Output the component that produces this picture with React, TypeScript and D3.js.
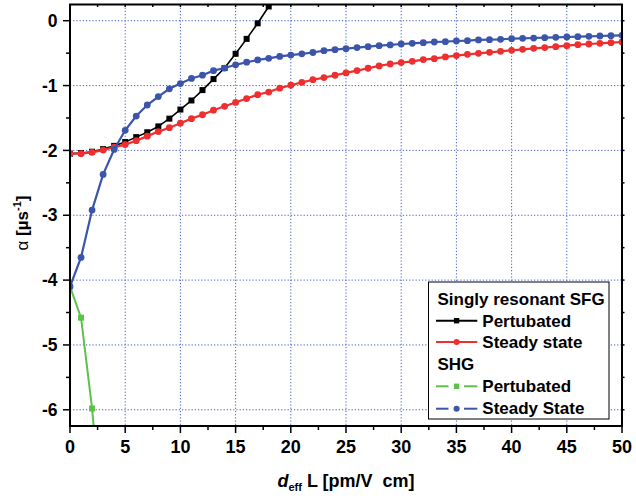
import React from "react";
import * as d3 from "d3";

const xSfgPert = d3.range(0, 19);
const sfgPert = [-2.05, -2.04, -2.02, -1.98, -1.93, -1.87, -1.795, -1.72, -1.63, -1.51, -1.37, -1.23, -1.07, -0.9, -0.73, -0.51, -0.28, -0.04, 0.22];

const xSteady = d3.range(0, 51);
const sfgSteady = [-2.05, -2.05, -2.03, -1.995, -1.95, -1.91, -1.85, -1.78, -1.71, -1.65, -1.58, -1.51, -1.45, -1.38, -1.32, -1.26, -1.2, -1.14, -1.1, -1.04, -0.995, -0.95, -0.91, -0.877, -0.841, -0.805, -0.769, -0.733, -0.697, -0.667, -0.646, -0.626, -0.6, -0.585, -0.559, -0.538, -0.518, -0.503, -0.487, -0.472, -0.456, -0.441, -0.426, -0.415, -0.4, -0.385, -0.369, -0.359, -0.349, -0.338, -0.328];

const xShgPert = [0, 1, 2, 3];
const shgPert = [-4.1, -4.58, -5.98, -7.9];

const shgSteady = [-4.1, -3.65, -2.92, -2.37, -1.985, -1.69, -1.47, -1.3, -1.17, -1.05, -0.97, -0.89, -0.84, -0.77, -0.73, -0.68, -0.64, -0.605, -0.58, -0.55, -0.53, -0.51, -0.49, -0.462, -0.446, -0.431, -0.415, -0.4, -0.385, -0.374, -0.359, -0.349, -0.338, -0.328, -0.323, -0.313, -0.308, -0.297, -0.292, -0.287, -0.277, -0.272, -0.267, -0.262, -0.256, -0.251, -0.246, -0.241, -0.236, -0.231, -0.226];

const xTicks = [0, 5, 10, 15, 20, 25, 30, 35, 40, 45, 50];
const yTicks = [0, -1, -2, -3, -4, -5, -6];

const BLACK = "#000000";
const RED = "#ef2f2f";
const GREEN = "#5cc04a";
const BLUE = "#3b55aa";
const GRID = "#3f5cc4";
const FONT = "'Liberation Sans', Arial, sans-serif";

export default function App() {
  const W = 636, H = 498;
  const L = 70, R = 622, T = 4.5, B = 426;
  const x = d3.scaleLinear().domain([0, 50]).range([L, R]);
  const y = d3.scaleLinear().domain([-6.25, 0.25]).range([B, T]);
  const line = d3.line<[number, number]>().x(d => x(d[0])).y(d => y(d[1]));

  const series = [
    { xs: xSfgPert, ys: sfgPert, color: BLACK, marker: "square", w: 1.6 },
    { xs: xSteady, ys: sfgSteady, color: RED, marker: "circle", w: 2.2 },
    { xs: xShgPert, ys: shgPert, color: GREEN, marker: "square", w: 2 },
    { xs: xSteady, ys: shgSteady, color: BLUE, marker: "circle", w: 2.2 },
  ];

  const xMinor = d3.range(0, 50.01, 2.5);
  const yMinor = d3.range(-6, 0.26, 0.5);

  const legendRows = [
    { label: "Pertubated", color: BLACK, marker: "square", dashed: false, yy: 320.7, ty: 326.5 },
    { label: "Steady state", color: RED, marker: "circle", dashed: false, yy: 342, ty: 347.5 },
    { label: "Pertubated", color: GREEN, marker: "square", dashed: true, yy: 386.3, ty: 391.5 },
    { label: "Steady State", color: BLUE, marker: "circle", dashed: true, yy: 408.7, ty: 414 },
  ];

  const mark = (mk: string, cx: number, cy: number, color: string, key: any, s = 1) =>
    mk === "square" ? (
      <rect key={key} x={cx - 3 * s} y={cy - 3 * s} width={6 * s} height={6 * s} fill={color} />
    ) : (
      <circle key={key} cx={cx} cy={cy} r={3.4 * s} fill={color} />
    );

  return (
    <svg width={W} height={H} style={{ position: "absolute", left: 0, top: 0 }} fontFamily={FONT}>
      <defs>
        <clipPath id="plotclip">
          <rect x={L} y={T} width={R - L} height={B - T} />
        </clipPath>
      </defs>
      <rect x={0} y={0} width={W} height={H} fill="#fff" />
      {/* grid */}
      {xTicks.filter(t => t > 0 && t < 50).map(t => (
        <line key={"gx" + t} x1={x(t)} x2={x(t)} y1={T} y2={B} stroke={GRID} strokeWidth={1} strokeDasharray="1.2,2" />
      ))}
      {yTicks.map(t => (
        <line key={"gy" + t} x1={L} x2={R} y1={y(t)} y2={y(t)} stroke={GRID} strokeWidth={1} strokeDasharray="1.2,2" />
      ))}
      {/* data */}
      <g clipPath="url(#plotclip)">
        {series.map((s, i) => {
          const pts: [number, number][] = s.xs.map((xx, j) => [xx, s.ys[j]]);
          return (
            <g key={"s" + i}>
              <path d={line(pts) || ""} fill="none" stroke={s.color} strokeWidth={s.w} />
              {pts.map((p, j) => mark(s.marker, x(p[0]), y(p[1]), s.color, j))}
            </g>
          );
        })}
      </g>
      {/* frame */}
      <rect x={L} y={T} width={R - L} height={B - T} fill="none" stroke="#000" strokeWidth={2} />
      {/* bottom ticks */}
      {xMinor.map(t => {
        const major = Math.abs(t % 5) < 1e-6;
        return (
          <g key={"xt" + t}>
            <line x1={x(t)} x2={x(t)} y1={B} y2={B + (major ? 7 : 4)} stroke="#000" strokeWidth={1.5} />
            <line x1={x(t)} x2={x(t)} y1={T} y2={T + 2.5} stroke="#000" strokeWidth={1.5} />
          </g>
        );
      })}
      {yMinor.map(t => {
        const major = Math.abs(t % 1) < 1e-6;
        return (
          <g key={"yt" + t}>
            <line x1={L - (major ? 7 : 4)} x2={L} y1={y(t)} y2={y(t)} stroke="#000" strokeWidth={1.5} />
            <line x1={R} x2={R + 2.5} y1={y(t)} y2={y(t)} stroke="#000" strokeWidth={1.5} />
          </g>
        );
      })}
      {xTicks.map(t => (
        <text key={"xl" + t} x={x(t)} y={453} textAnchor="middle" fontSize={18} fontWeight="bold">{t}</text>
      ))}
      {yTicks.map(t => (
        <text key={"yl" + t} x={57.5} y={y(t) + 6.2} textAnchor="end" fontSize={17.5} fontWeight="bold">{t}</text>
      ))}
      {/* axis titles */}
      <text x={346} y={487} textAnchor="middle" fontSize={18} fontWeight="bold" style={{ whiteSpace: "pre" }}>
        <tspan fontStyle="italic">d</tspan>
        <tspan fontSize={11} dy={4}>eff</tspan>
        <tspan dy={-4}>{" L [pm/V  cm]"}</tspan>
      </text>
      <text transform="translate(28,223) rotate(-90)" textAnchor="middle" fontSize={17} fontWeight="bold">
        <tspan fontWeight="normal">α</tspan>
        <tspan>{" [µs"}</tspan>
        <tspan fontSize={11} dy={-7}>-1</tspan>
        <tspan dy={7}>]</tspan>
      </text>
      {/* legend */}
      <rect x={428.5} y={282} width={180.5} height={137} fill="#fff" stroke="#000" strokeWidth={1} />
      <text x={437.5} y={305.3} fontSize={17} fontWeight="bold">Singly resonant SFG</text>
      <text x={437.5} y={369.7} fontSize={17} fontWeight="bold">SHG</text>
      {legendRows.map((r, i) => (
        <g key={"lg" + i}>
          {r.dashed ? (
            <>
              <line x1={436} x2={448.5} y1={r.yy} y2={r.yy} stroke={r.color} strokeWidth={2} />
              <line x1={464} x2={477.3} y1={r.yy} y2={r.yy} stroke={r.color} strokeWidth={2} />
            </>
          ) : (
            <line x1={436} x2={477.3} y1={r.yy} y2={r.yy} stroke={r.color} strokeWidth={2} />
          )}
          {mark(r.marker, 456.6, r.yy, r.color, "m", 0.9)}
          <text x={482.3} y={r.ty} fontSize={17} fontWeight="bold">{r.label}</text>
        </g>
      ))}
    </svg>
  );
}
